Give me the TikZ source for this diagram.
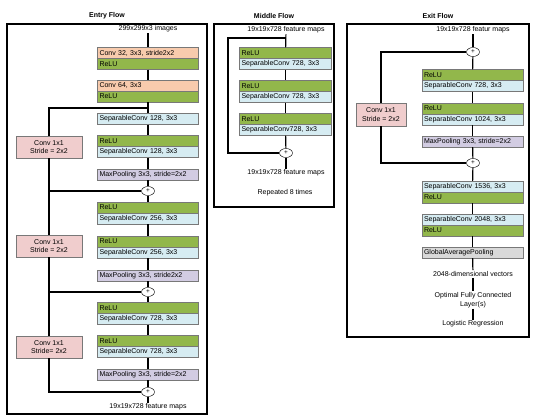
\documentclass[tikz,border=0pt]{standalone}
\usepackage{fontspec}
\setmainfont{Liberation Sans}
\usetikzlibrary{shapes.geometric}
\definecolor{convc}{RGB}{248,203,173}
\definecolor{reluc}{RGB}{146,183,75}
\definecolor{sepc}{RGB}{214,236,242}
\definecolor{poolc}{RGB}{210,204,226}
\definecolor{shortc}{RGB}{240,205,205}
\definecolor{gapc}{RGB}{217,217,217}
\definecolor{boxline}{RGB}{120,120,120}
\begin{document}
\begin{tikzpicture}[x=1pt,y=-1pt,
    font=\fontsize{7}{8.4}\selectfont,
    layer/.style={draw=boxline, minimum height=11pt, inner xsep=2pt, inner ysep=0pt, text width=#1, align=left},
    layer/.default=97pt,
    conv/.style={layer=#1, fill=convc}, conv/.default=97pt,
    relu/.style={layer=#1, fill=reluc}, relu/.default=97pt,
    sep/.style={layer=#1, fill=sepc}, sep/.default=97pt,
    pool/.style={layer=#1, fill=poolc}, pool/.default=97pt,
    gap/.style={layer=#1, fill=gapc}, gap/.default=97pt,
    short/.style={draw=boxline, fill=shortc, align=center, minimum width=66pt, minimum height=22pt, inner sep=1pt},
    add/.style={ellipse, draw, fill=white, minimum width=13pt, minimum height=9pt, inner sep=0pt, font=\fontsize{6.5}{6.5}\selectfont},
    txt/.style={inner sep=1pt, align=center},
    title/.style={font=\fontsize{7}{8}\selectfont\bfseries},
    flow/.style={line width=1.2pt},
    skip/.style={line width=1.8pt},
    frame/.style={line width=1.2pt}]
\useasboundingbox (0,0) rectangle (535,419);

% frames and titles
\draw[frame] (7,24) rectangle (207,414);
\draw[frame] (214,24) rectangle (334,207);
\draw[frame] (347,24) rectangle (529,337);
\node[title] (entrytitle) at (107,16) {Entry Flow};
\node[title] (middletitle) at (274,16) {Middle Flow};
\node[title] (exittitle) at (438,16) {Exit Flow};

% entry flow
\node[txt] (img) at (148,29) {299x299x3 images};
\node[conv] (e1) at (148,53) {Conv 32, 3x3, stride2x2};
\node[relu] (e2) at (148,64) {ReLU};
\node[conv] (e3) at (148,85.5) {Conv 64, 3x3};
\node[relu] (e4) at (148,96.5) {ReLU};
\node[sep] (e5) at (148,119) {SeparableConv 128, 3x3};
\node[relu] (e6) at (148,141) {ReLU};
\node[sep] (e7) at (148,152) {SeparableConv 128, 3x3};
\node[pool] (e8) at (148,174.5) {MaxPooling 3x3, stride=2x2};
\node[add] (ea1) at (148,191) {+};
\node[relu] (e9) at (148,207.5) {ReLU};
\node[sep] (e10) at (148,218.5) {SeparableConv 256, 3x3};
\node[relu] (e11) at (148,241.5) {ReLU};
\node[sep] (e12) at (148,252.5) {SeparableConv 256, 3x3};
\node[pool] (e13) at (148,275.5) {MaxPooling 3x3, stride2x2};
\node[add] (ea2) at (148,292) {+};
\node[relu] (e14) at (148,308) {ReLU};
\node[sep] (e15) at (148,319) {SeparableConv 728, 3x3};
\node[relu] (e16) at (148,341) {ReLU};
\node[sep] (e17) at (148,352) {SeparableConv 728, 3x3};
\node[pool] (e18) at (148,374.5) {MaxPooling 3x3, stride=2x2};
\node[add] (ea3) at (148,392) {+};
\node[txt] (eout) at (148,407) {19x19x728 feature maps};
\node[short] (ec1) at (49,147) {Conv 1x1\\Stride = 2x2};
\node[short] (ec2) at (49,246) {Conv 1x1\\Stride = 2x2};
\node[short] (ec3) at (49,347) {Conv 1x1\\Stride= 2x2};
\coordinate (eb) at (148,108);

\foreach \a/\b in {img/e1,e2/e3,e4/e5,e5/e6,e7/e8,e8/ea1,ea1/e9,e10/e11,e12/e13,e13/ea2,ea2/e14,e15/e16,e17/e18,e18/ea3,ea3/eout}
    \draw[flow] (\a) -- (\b);
\draw[skip] (eb) -| (ec1);
\draw[skip] (ec1) |- (ea1);
\draw[skip] (ea1) -| (ec2);
\draw[skip] (ec2) |- (ea2);
\draw[skip] (ea2) -| (ec3);
\draw[skip] (ec3) |- (ea3);

% middle flow
\node[txt] (min) at (286,30) {19x19x728 feature maps};
\node[relu=88pt] (m1) at (285.5,53) {ReLU};
\node[sep=88pt] (m2) at (285.5,64) {SeparableConv 728, 3x3};
\node[relu=88pt] (m3) at (285.5,86) {ReLU};
\node[sep=88pt] (m4) at (285.5,97) {SeparableConv 728, 3x3};
\node[relu=88pt] (m5) at (285.5,119) {ReLU};
\node[sep=88pt] (m6) at (285.5,130) {SeparableConv728, 3x3};
\node[add] (ma) at (286,153) {+};
\node[txt] (mout) at (286,173) {19x19x728 feature maps};
\node[txt] (mrep) at (285,193) {Repeated 8 times};
\coordinate (mb) at (286,38);
\coordinate (mc) at (228,38);

\foreach \a/\b in {min/m1,m2/m3,m4/m5,m6/ma,ma/mout}
    \draw[flow] (\a) -- (\b);
\draw[skip] (mb) -- (mc) |- (ma);

% exit flow
\node[txt] (xin) at (473,30) {19x19x728 featur maps};
\node[add] (xa1) at (473,52) {+};
\node[relu] (x1) at (472.5,75) {ReLU};
\node[sep] (x2) at (472.5,86) {SeparableConv 728, 3x3};
\node[relu] (x3) at (472.5,108.5) {ReLU};
\node[sep] (x4) at (472.5,119.5) {SeparableConv 1024, 3x3};
\node[pool] (x5) at (472.5,141.5) {MaxPooling 3x3, stride=2x2};
\node[add] (xa2) at (473,163) {+};
\node[sep] (x6) at (472.5,186.5) {SeparableConv 1536, 3x3};
\node[relu] (x7) at (472.5,197.5) {ReLU};
\node[sep] (x8) at (472.5,219.5) {SeparableConv 2048, 3x3};
\node[relu] (x9) at (472.5,230.5) {ReLU};
\node[gap] (x10) at (472.5,252.5) {GlobalAveragePooling};
\node[txt] (x11) at (473,274) {2048-dimensional vectors};
\node[txt] (x12) at (473,300) {Optimal Fully Connected\\Layer(s)};
\node[txt] (x13) at (473,324) {Logistic Regression};
\node[short, minimum width=50pt, minimum height=23pt] (xc) at (381,114.5) {Conv 1x1\\Stride = 2x2};

\foreach \a/\b in {xin/xa1,xa1/x1,x2/x3,x4/x5,x5/xa2,xa2/x6,x7/x8,x9/x10,x10/x11,x11/x12,x12/x13}
    \draw[flow] (\a) -- (\b);
\draw[skip] (xa1) -| (xc);
\draw[skip] (xc) |- (xa2);
\end{tikzpicture}
\end{document}
